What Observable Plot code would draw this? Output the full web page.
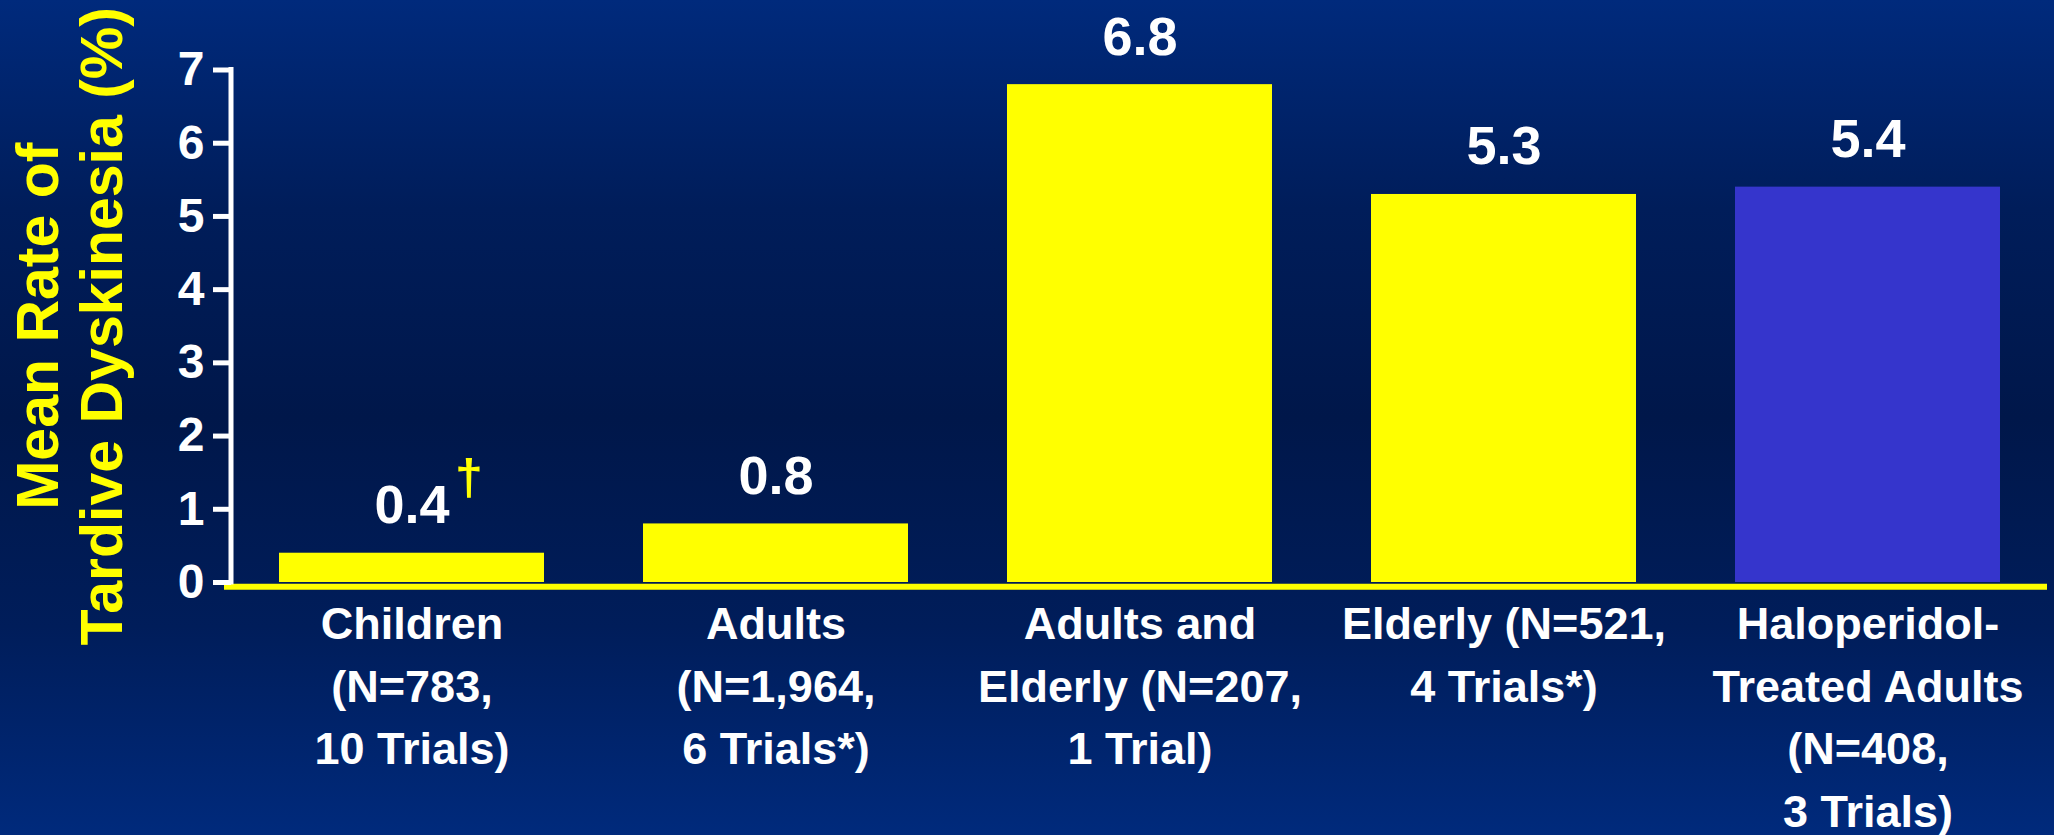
<!DOCTYPE html>
<html>
<head>
<meta charset="utf-8">
<script src="https://cdn.jsdelivr.net/npm/d3@7"></script>
<script src="https://cdn.jsdelivr.net/npm/@observablehq/plot@0.6"></script>
<style>
  html, body { margin: 0; padding: 0; }
  body {
    width: 2054px; height: 835px; overflow: hidden;
    background: linear-gradient(to bottom, #002a7c 0%, #001d5a 25%, #00174a 50%, #001d5a 75%, #002a7c 100%);
    font-family: "Liberation Sans", Arial, sans-serif;
  }
  svg { display: block; }
</style>
</head>
<body>
<div id="chart"></div>
<script>
const categories = [
  "Children\n(N=783,\n10 Trials)",
  "Adults\n(N=1,964,\n6 Trials*)",
  "Adults and\nElderly (N=207,\n1 Trial)",
  "Elderly (N=521,\n4 Trials*)",
  "Haloperidol-\nTreated Adults\n(N=408,\n3 Trials)"
];
const values = [0.4, 0.8, 6.8, 5.3, 5.4];
const valueLabels = ["0.4", "0.8", "6.8", "5.3", "5.4"];
const notes = ["†", "", "", "", ""];
const barColors = ["#ffff00", "#ffff00", "#ffff00", "#ffff00", "#3535cc"];
const yTicks = [0, 1, 2, 3, 4, 5, 6, 7];
const yTitle = "Mean Rate of\nTardive Dyskinesia (%)";

const rows = categories.map((c, i) => ({
  cat: c, value: values[i], label: valueLabels[i], note: notes[i], color: barColors[i]
}));

const font = "Liberation Sans, Arial, sans-serif";
const mLeft = 231;

const chart = Plot.plot({
  width: 2054,
  height: 835,
  marginTop: 69.5,
  marginBottom: 253,
  marginLeft: mLeft,
  marginRight: 7,
  style: { background: "transparent", fontFamily: font, overflow: "visible" },
  x: { domain: categories, paddingInner: 0.272, paddingOuter: 0.129 },
  y: { domain: [0, 7] },
  color: { type: "identity" },
  marks: [
    Plot.barY(rows, { x: "cat", y: "value", fill: "color" }),
    Plot.ruleY([0], { stroke: "#ffff00", strokeWidth: 6, dy: 4.3, insetLeft: -7 }),
    Plot.axisY({
      ticks: yTicks, tickFormat: d => String(d), tickSize: 18, tickPadding: 9,
      stroke: "white", fill: "white", strokeWidth: 5, fontSize: 48, fontWeight: "bold", label: null
    }),
    Plot.axisX({
      tickSize: 0, tickPadding: 12, fill: "white", fontSize: 45, fontWeight: "bold",
      lineHeight: 1.393, label: null
    }),
    Plot.text(rows, {
      x: "cat", y: "value", text: "label", dy: -30, lineAnchor: "bottom",
      fill: "white", fontSize: 54, fontWeight: "bold"
    }),
    Plot.text(rows.filter(d => d.note), {
      x: "cat", y: "value", text: "note", dx: 57, dy: -59, lineAnchor: "bottom",
      fill: "#ffff00", fontSize: 50, fontWeight: "bold"
    }),
    Plot.text([yTitle], {
      text: d => d, frameAnchor: "left", textAnchor: "middle", rotate: -90, dx: -162,
      lineAnchor: "middle", fill: "#ffff00", fontSize: 59, fontWeight: "bold", lineHeight: 1.085
    })
  ]
});

// y-axis line, positioned from Plot's own y scale at the frame's left edge
const ys = chart.scale("y");
d3.select(chart).append("line")
  .attr("x1", mLeft).attr("x2", mLeft)
  .attr("y1", ys.apply(7)).attr("y2", ys.apply(0))
  .attr("stroke", "white").attr("stroke-width", 5).attr("stroke-linecap", "square");

document.getElementById("chart").appendChild(chart);
</script>
</body>
</html>
